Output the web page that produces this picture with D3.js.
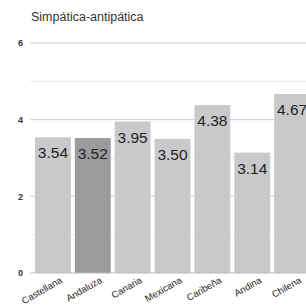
<!DOCTYPE html>
<html>
<head>
<meta charset="utf-8">
<script src="https://cdn.jsdelivr.net/npm/d3@7"></script>
<style>
  body { margin: 0; background: #fff; }
  svg { display: block; font-family: "Liberation Sans", Arial, sans-serif; }
</style>
</head>
<body>
<svg></svg>
<script>
// values
let categories = ["Castellana", "Andaluza", "Canaria", "Mexicana", "Caribeña", "Andina", "Chilena"];
let values = [3.54, 3.52, 3.95, 3.50, 4.38, 3.14, 4.67];
let yTicks = [0, 2, 4, 6];
let gridValues = [1, 2, 3, 4, 5, 6];
let highlighted = "Andaluza";

let width = 306;
let height = 308;

let svg = d3.select("svg")
            .attr("width", width)
            .attr("height", height)

let xScale = d3.scaleBand()
                .domain(categories)
                .range([33, 312])
                .paddingInner(0.1)
                .paddingOuter(0.05)

let yScale = d3.scaleLinear()
                .domain([0, 6])
                .range([273, 43])

// title
svg.append("text")
    .attr("x", 31)
    .attr("y", 21)
    .attr("font-size", 12.5)
    .attr("fill", "#333")
    .text("Simpática-antipática")

// grid lines
svg.append("g")
    .selectAll("line")
    .data(gridValues)
    .enter()
    .append("line")
    .attr("x1", 30)
    .attr("x2", width)
    .attr("y1", d => yScale(d))
    .attr("y2", d => yScale(d))
    .attr("stroke", d => d % 2 === 0 ? "#d0d0d0" : "#ebebeb")
    .attr("stroke-width", 1)

// y axis labels
let yAxis = d3.axisLeft(yScale)
                .tickValues(yTicks)
                .tickFormat(d3.format("d"))
                .tickSize(0)
                .tickPadding(7)

svg.append("g")
    .attr("transform", "translate(30, 0)")
    .call(yAxis)
    .call(g => g.select(".domain").remove())
    .call(g => g.selectAll("text")
        .attr("font-size", 9)
        .attr("font-weight", "bold")
        .attr("fill", "#333"))

// bars
svg.append("g")
    .selectAll("rect")
    .data(categories)
    .enter()
    .append("rect")
    .attr("x", d => xScale(d))
    .attr("y", (d, i) => yScale(values[i]))
    .attr("width", xScale.bandwidth())
    .attr("height", (d, i) => yScale(0) - yScale(values[i]))
    .attr("fill", d => d === highlighted ? "#9b9b9d" : "#c9c9cb")

// baseline
svg.append("line")
    .attr("x1", 30)
    .attr("x2", width)
    .attr("y1", yScale(0))
    .attr("y2", yScale(0))
    .attr("stroke", "#bbb")

// value labels
svg.append("g")
    .selectAll("text")
    .data(categories)
    .enter()
    .append("text")
    .attr("x", d => xScale(d) + xScale.bandwidth() / 2)
    .attr("y", (d, i) => yScale(values[i]) + 21)
    .attr("text-anchor", "middle")
    .attr("font-size", 15.5)
    .attr("fill", "#222")
    .text((d, i) => values[i].toFixed(2))

// x axis labels
let xAxis = d3.axisBottom(xScale)
                .tickSize(0)
                .tickPadding(0)

svg.append("g")
    .attr("transform", "translate(0, " + yScale(0) + ")")
    .call(xAxis)
    .call(g => g.select(".domain").remove())
    .call(g => g.selectAll("text")
        .attr("font-size", 9.5)
        .attr("fill", "#222")
        .attr("text-anchor", "end")
        .attr("dy", 0)
        .attr("transform", "translate(10, 9) rotate(-30)"))
</script>
</body>
</html>
